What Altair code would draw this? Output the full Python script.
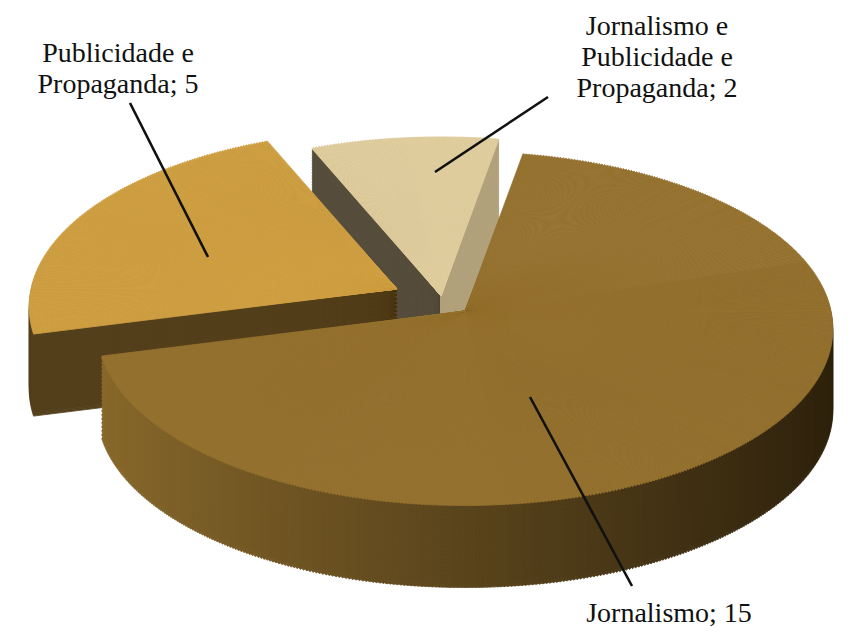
import math
import altair as alt
import pandas as pd

# ---- data ----
categories = ["Jornalismo", "Publicidade e Propaganda", "Jornalismo e Publicidade e Propaganda"]
values = [15, 5, 2]
labels = ["Jornalismo; 15", "Publicidade e\nPropaganda; 5", "Jornalismo e\nPublicidade e\nPropaganda; 2"]

# ---- styles / layout (plot-area pixels) ----
top_colors = ["#94712f", "#cfa043", "#dfcd9e"]
apex = [(457, 303), (389, 281), (433, 288)]   # apex of every exploded slice
depth_step = [4, 4, 1.5]                      # rendering resolution of the slice sides
A, B = 366, 175          # ellipse semi-axes of the tilted pie
P = 0.1                  # perspective (back smaller than front)
DEPTH = 82
STEP = 0.5               # wedge width in degrees (rendering resolution)
START = 10.0             # first slice starts 10 degrees clockwise from 12 o'clock
draw_order = [2, 1, 0]   # back to front

side_scale = alt.Scale(
    domain=[0, 1, 2, 3, 4, 4.54, 4.56, 5],
    range=["#2e220c", "#8a6a2c", "#4a3818", "#54401c",
           "#b3a27c", "#b3a27c", "#574e3c", "#574e3c"],
)

df = pd.DataFrame({"category": categories, "value": values, "order": list(range(len(values)))})

step_rad = math.radians(STEP)
start_rad = math.radians(START)
phi = "atan2({A}*sin({t}), {B}*cos({t}))"

base = (
    alt.Chart(df)
    .transform_window(cum="sum(value)", sort=[alt.SortField("order")], frame=[None, 0])
    .transform_joinaggregate(total="sum(value)")
    .transform_calculate(
        a0=f"{start_rad} + 2*PI*(datum.cum - datum.value)/datum.total",
        a1=f"{start_rad} + 2*PI*datum.cum/datum.total",
    )
    .transform_calculate(k=f"sequence(0, ceil((datum.a1 - datum.a0)/{step_rad}))")
    .transform_flatten(["k"])
    .transform_calculate(t0=f"datum.a0 + datum.k*{step_rad}")
    .transform_calculate(t1=f"min(datum.t0 + {step_rad}, datum.a1)")
    .transform_calculate(
        tm="(datum.t0 + datum.t1)/2",
        p0=phi.format(A=A, B=B, t="datum.t0"),
        p1r=phi.format(A=A, B=B, t="datum.t1"),
    )
    .transform_calculate(
        p1="datum.p1r < datum.p0 ? datum.p1r + 2*PI : datum.p1r",
        rho=f"sqrt(pow({A}*sin(datum.tm), 2) + pow({B}*cos(datum.tm), 2)) / (1 + {P}*cos(datum.tm))",
        sv="2*datum.order + 0.5 - 0.5*sin(datum.tm)",
    )
)

def wedges(i, dy, top):
    cx, cy = apex[i]
    enc = dict(
        theta=alt.Theta("p0:Q", scale=None),
        theta2="p1:Q",
        radius=alt.Radius("rho:Q", scale=None),
        x=alt.value(cx),
        y=alt.value(cy + dy),
    )
    chart = base.transform_filter(alt.datum.order == i)
    if top:
        return chart.mark_arc(fill=top_colors[i], stroke=top_colors[i], strokeWidth=0.8).encode(**enc)
    if i == 0:
        # back part of the front slice is hidden under its own top face
        chart = chart.transform_filter("cos(datum.tm) < 0.3")
    enc["fill"] = alt.Fill("sv:Q", scale=side_scale, legend=None)
    enc["stroke"] = alt.Stroke("sv:Q", scale=side_scale, legend=None)
    return chart.mark_arc(strokeWidth=0.8).encode(**enc)

layers = []
for i in draw_order:
    d = float(DEPTH)
    while d > 0:
        layers.append(wedges(i, round(d, 2), False))
        d -= depth_step[i]
    layers.append(wedges(i, 0, True))

# leader lines (annotation positions)
lines = [
    (522, 389, 624, 578),
    (122, 95, 200, 249),
    (540, 89, 427, 164),
]
for i, (x1, y1, x2, y2) in enumerate(lines):
    layers.append(
        alt.Chart(df).transform_filter(alt.datum.order == i)
        .mark_rule(color="#111111", strokeWidth=2.6)
        .encode(x=alt.value(x1), y=alt.value(y1), x2=alt.value(x2), y2=alt.value(y2))
    )

# labels (x = centre, y = first baseline)
label_pos = [(661, 614), (110, 54), (649, 27)]
label_df = pd.DataFrame({"label": labels})
for i, (lx, ly) in enumerate(label_pos):
    layers.append(
        alt.Chart(label_df).transform_filter(alt.datum.label == labels[i])
        .mark_text(font="Liberation Serif", fontSize=28, color="#111111", align="center",
                   baseline="alphabetic", lineBreak="\n", lineHeight=31)
        .encode(text="label:N", x=alt.value(lx), y=alt.value(ly))
    )

chart = (
    alt.layer(*layers)
    .properties(width=840, height=623, padding=0, autosize=alt.AutoSizeParams(type="none"))
    .configure_view(stroke=None)
)

chart.save("out.html", embed_options={"renderer": "svg", "actions": False})
